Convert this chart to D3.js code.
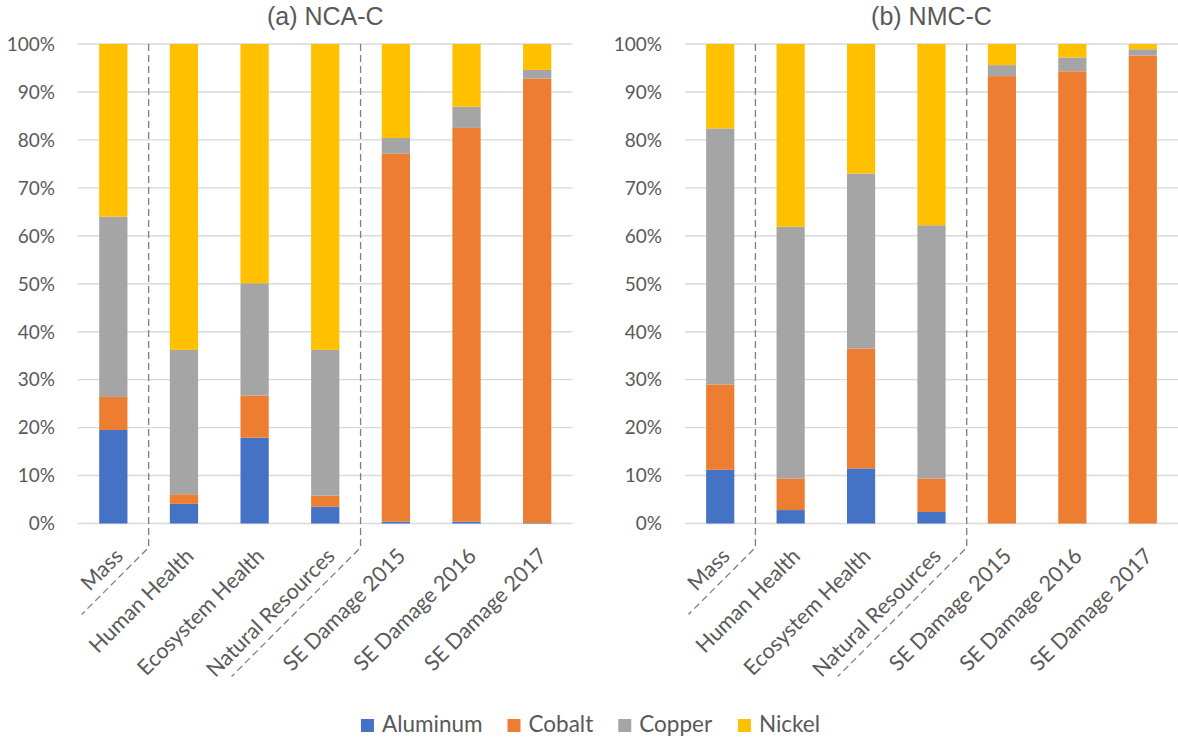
<!DOCTYPE html>
<html>
<head>
<meta charset="utf-8">
<script src="https://cdn.jsdelivr.net/npm/d3@7"></script>
<style>
  html, body { margin: 0; padding: 0; background: #fff; }
  svg { display: block; }
</style>
</head>
<body>
<svg id="chart" width="1178" height="737"></svg>
<script>
const categories = ["Mass", "Human Health", "Ecosystem Health", "Natural Resources", "SE Damage 2015", "SE Damage 2016", "SE Damage 2017"];
const metals = ["Aluminum", "Cobalt", "Copper", "Nickel"];
const metalColors = ["#4472C4", "#ED7D31", "#A5A5A5", "#FFC000"];
const tickValues = [0, 10, 20, 30, 40, 50, 60, 70, 80, 90, 100];
const tickLabels = ["0%", "10%", "20%", "30%", "40%", "50%", "60%", "70%", "80%", "90%", "100%"];

// (a) NCA-C
const ncaAluminum = [19.5, 4.1, 17.9, 3.5, 0.4, 0.4, 0.1];
const ncaCobalt   = [6.9, 2.0, 8.8, 2.3, 76.7, 82.1, 92.7];
const ncaCopper   = [37.6, 30.1, 23.4, 30.4, 3.3, 4.4, 1.8];
const ncaNickel   = [36.0, 63.8, 49.9, 63.8, 19.6, 13.1, 5.4];

// (b) NMC-C
const nmcAluminum = [11.2, 2.8, 11.5, 2.4, 0, 0, 0];
const nmcCobalt   = [17.8, 6.6, 25.0, 7.0, 93.3, 94.3, 97.6];
const nmcCopper   = [53.4, 52.5, 36.5, 52.8, 2.3, 2.9, 1.3];
const nmcNickel   = [17.6, 38.1, 27.0, 37.8, 4.4, 2.8, 1.1];

const panelTitles = ["(a) NCA-C", "(b) NMC-C"];
const separatorAfter = [0, 3];   // dashed separator after these category indices

const svg = d3.select("#chart");
const textColor = "#595959";
const tickFont = "Lato, 'Open Sans', sans-serif";
const titleFont = "'Liberation Sans', Arial, sans-serif";

function buildRows(al, co, cu, ni) {
  return categories.map((c, i) => ({ cat: c, Aluminum: al[i], Cobalt: co[i], Copper: cu[i], Nickel: ni[i] }));
}

const panels = [
  { title: panelTitles[0], rows: buildRows(ncaAluminum, ncaCobalt, ncaCopper, ncaNickel), x0: 78, x1: 572.5, diag: [67, 129] },
  { title: panelTitles[1], rows: buildRows(nmcAluminum, nmcCobalt, nmcCopper, nmcNickel), x0: 685, x1: 1178, diag: [67, 129] }
];

const yTop = 44, yBottom = 523.5;
const y = d3.scaleLinear().domain([0, 100]).range([yBottom, yTop]);
const color = d3.scaleOrdinal().domain(metals).range(metalColors);
const stack = d3.stack().keys(metals);

panels.forEach(p => {
  const g = svg.append("g");
  const x = d3.scaleBand().domain(categories).range([p.x0, p.x1]).padding(0);
  const step = x.step();
  const barW = step * 0.4;

  // gridlines
  g.append("g").selectAll("line").data(tickValues).join("line")
    .attr("x1", p.x0).attr("x2", p.x1)
    .attr("y1", d => y(d)).attr("y2", d => y(d))
    .attr("stroke", "#d9d9d9").attr("stroke-width", 1.4);

  // y axis labels
  g.append("g").selectAll("text").data(tickValues).join("text")
    .attr("x", p.x0 - 23).attr("y", d => y(d)).attr("dy", "0.36em")
    .attr("text-anchor", "end")
    .attr("font-family", tickFont).attr("font-size", 19)
    .attr("fill", textColor)
    .text((d, i) => tickLabels[i]);

  // bars
  const series = stack(p.rows);
  g.append("g").selectAll("g").data(series).join("g")
    .attr("fill", d => color(d.key))
    .selectAll("rect").data(d => d).join("rect")
    .attr("x", d => x(d.data.cat) + (step - barW) / 2)
    .attr("width", barW)
    .attr("y", d => y(d[1]))
    .attr("height", d => Math.max(0, y(d[0]) - y(d[1])));

  // x labels
  g.append("g").selectAll("text").data(categories).join("text")
    .attr("text-anchor", "end")
    .attr("transform", d => `translate(${x(d) + step / 2},${yBottom + 23}) rotate(-45)`)
    .attr("dy", "0.72em")
    .attr("font-family", tickFont).attr("font-size", 21.5)
    .attr("fill", textColor)
    .text(d => d);

  // dashed separators
  separatorAfter.forEach((idx, k) => {
    const sx = x(categories[idx + 1]);
    const vEnd = yBottom + 24;
    const len = p.diag[k];
    g.append("path")
      .attr("d", `M${sx},${yTop}L${sx},${vEnd}L${sx - len},${vEnd + len}`)
      .attr("fill", "none")
      .attr("stroke", "#7f7f7f").attr("stroke-width", 1.3)
      .attr("stroke-dasharray", "7,4");
  });

  // title
  g.append("text")
    .attr("x", (p.x0 + p.x1) / 2).attr("y", 25)
    .attr("text-anchor", "middle")
    .attr("font-family", titleFont).attr("font-size", 25)
    .attr("fill", textColor)
    .text(p.title);
});

// legend
const legend = svg.append("g");
const items = legend.selectAll("g").data(metals).join("g");
items.append("rect").attr("width", 13).attr("height", 13).attr("y", -13)
  .attr("fill", d => color(d));
items.append("text").attr("x", 21).attr("y", 0)
  .attr("font-family", tickFont).attr("font-size", 22.5)
  .attr("fill", textColor)
  .text(d => d);
const widths = [];
items.each(function () { widths.push(this.getBBox().width); });
const gapItems = 25;
const totalW = d3.sum(widths) + gapItems * (widths.length - 1);
let startX = 590.5 - totalW / 2;
items.attr("transform", (d, i) => {
  const t = `translate(${startX},732)`;
  startX += widths[i] + gapItems;
  return t;
});
</script>
</body>
</html>
